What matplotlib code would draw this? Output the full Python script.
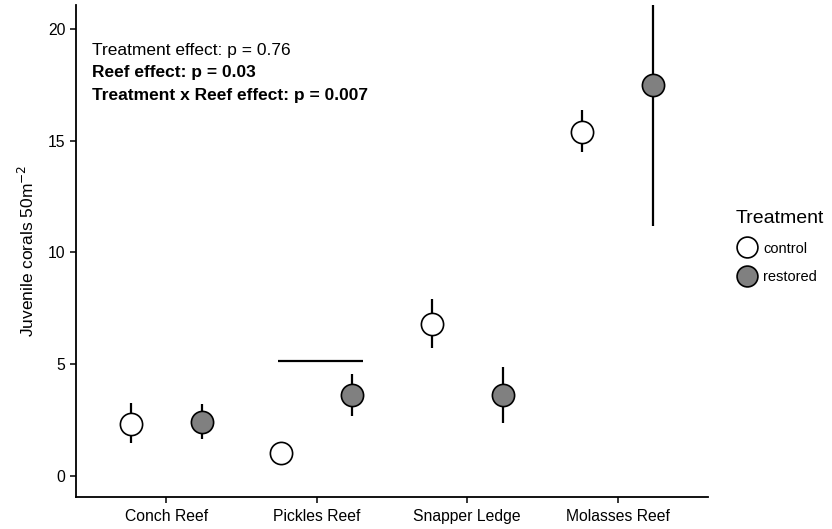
import matplotlib
matplotlib.use("Agg")
import matplotlib.pyplot as plt
from matplotlib.lines import Line2D
import numpy as np

plt.rcParams['font.family'] = ['Liberation Sans', 'DejaVu Sans']

reefs = ["Conch Reef", "Pickles Reef", "Snapper Ledge", "Molasses Reef"]
treatments = ["control", "restored"]
ctrl_mean = [2.33, 1.03, 6.8, 15.39]
ctrl_lo = [1.48, 1.03, 5.73, 14.5]
ctrl_hi = [3.27, 1.03, 7.92, 16.38]
rest_mean = [2.4, 3.62, 3.62, 17.49]
rest_lo = [1.66, 2.68, 2.37, 11.19]
rest_hi = [3.22, 4.56, 4.88, 23.8]
# stray horizontal segment near Pickles Reef
seg_y = 5.15
seg_x = [1.744, 2.309]

fills = {"control": "white", "restored": "#808080"}
dodge = 0.235

fig = plt.figure(figsize=(8.32, 5.29), dpi=100)
ax = fig.add_axes([0.0913, 0.0605, 0.7597, 0.93])

x = np.arange(1, len(reefs) + 1)
for tr, m, lo, hi, off in [("control", ctrl_mean, ctrl_lo, ctrl_hi, -dodge),
                           ("restored", rest_mean, rest_lo, rest_hi, dodge)]:
    xs = x + off
    ax.vlines(xs, lo, hi, color="black", lw=1.6, zorder=2)
    ax.plot(xs, m, "o", ms=16, mfc=fills[tr], mec="black", mew=1.2, zorder=3)

ax.hlines(seg_y, seg_x[0], seg_x[1], color="black", lw=1.6)

ax.set_xlim(0.4, 4.6)
ax.set_ylim(-0.94, 21.07)
ax.set_xticks(x)
ax.set_xticklabels(reefs, fontsize=11.3)
ax.set_yticks([0, 5, 10, 15, 20])
ax.tick_params(axis="both", labelsize=11.3, length=4, width=1.1, color="black")
ax.tick_params(axis="x", pad=5)
for s in ["top", "right"]:
    ax.spines[s].set_visible(False)
for s in ["left", "bottom"]:
    ax.spines[s].set_linewidth(1.3)
ax.set_ylabel("Juvenile corals 50m$^{-2}$", fontsize=12.5, labelpad=8)

ax.text(0.025, 0.908, "Treatment effect: p = 0.76", transform=ax.transAxes,
        fontsize=12.5, va="center")
ax.text(0.025, 0.863, "Reef effect: p = 0.03", transform=ax.transAxes,
        fontsize=12.5, va="center", fontweight="bold")
ax.text(0.025, 0.816, "Treatment x Reef effect: p = 0.007", transform=ax.transAxes,
        fontsize=12.5, va="center", fontweight="bold")

handles = [Line2D([], [], ls="", marker="o", ms=15, mfc=fills[t], mec="black", mew=1.2)
           for t in treatments]
leg = fig.legend(handles, treatments, title="Treatment", loc="upper left",
                 bbox_to_anchor=(0.884, 0.603), frameon=False, fontsize=10.5,
                 title_fontsize=14, handletextpad=0.3, labelspacing=1.0,
                 handlelength=1.6, borderaxespad=0, borderpad=0)
leg._legend_box.align = "left"

fig.savefig("out.png", dpi=100)
